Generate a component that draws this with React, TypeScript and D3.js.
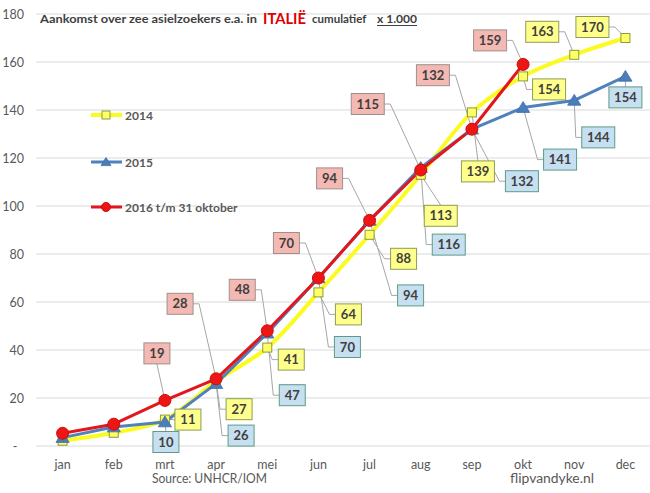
import React from 'react';
import * as d3 from 'd3';

// ---------- data ----------
const months = ['jan', 'feb', 'mrt', 'apr', 'mei', 'jun', 'jul', 'aug', 'sep', 'okt', 'nov', 'dec'];
const yTicks = [0, 20, 40, 60, 80, 100, 120, 140, 160, 180];
const values2014 = [2.2, 5.5, 11, 27, 41, 64, 88, 113, 139, 154, 163, 170];
const values2015 = [3.5, 7.9, 10, 26, 47, 70, 94, 116, 132, 141, 144, 154];
const values2016 = [5.3, 9.1, 19, 28, 48, 70, 94, 115, 132, 159];
const seriesNames = ['2014', '2015', '2016 t/m 31 oktober'];
const titleParts = ['Aankomst over zee asielzoekers e.a. in', 'ITALIË', 'cumulatief', 'x 1.000'];
const sourceText = 'Source: UNHCR/IOM';
const creditText = 'flipvandyke.nl';

// ---------- label layout (offset of box centre from its point, leader side) ----------
type Lay = [number, number, string] | null;
const layout2014: Lay[] = [null, null, [23, 0, 'l'], [23, 28, 'l'], [24, 12, 'l'], [30, 22, 'l'], [34, 24, 'l'], [20, 41, 't'], [6, 59, 't'], [26, 13, 'l'], [-32, -23, 'r'], [-33, -11, 'r']];
const layout2015: Lay[] = [null, null, [1, 20, 't'], [25, 52, 'l'], [25, 62, 'l'], [29, 69, 'l'], [41, 75, 'l'], [28, 77, 'l'], [50, 52, 'l'], [37, 52, 'l'], [24, 37, 'l'], [0, 21, 't']];
const layout2016: Lay[] = [null, null, [-8, -47, 'b'], [-36, -75, 'r'], [-25, -41, 'r'], [-32, -35, 'r'], [-40, -42, 'r'], [-53, -66, 'r'], [-39, -54, 'r'], [-33, -24, 'r']];

const W = 650;
const H = 493;
const FONT = 'Lato, "Open Sans", sans-serif';

const x = d3.scaleBand<string>().domain(months).range([37, 651]);
const y = d3.scaleLinear().domain([0, 180]).range([446, 14]);
const cx = (i: number) => (x(months[i]) as number) + x.bandwidth() / 2;

const styles = [
  { line: '#fbfb22', width: 4, box: '#ffff8c', boxStroke: '#8d9c55', marker: 'square', curve: d3.curveCatmullRom },
  { line: '#4f81bd', width: 3, box: '#c6dff1', boxStroke: '#5d9b88', marker: 'triangle', curve: d3.curveLinear },
  { line: '#e2161b', width: 3, box: '#f3b9b2', boxStroke: '#9f8f8c', marker: 'circle', curve: d3.curveLinear },
];

function Marker({ kind, px, py, legend }: { kind: string; px: number; py: number; legend?: boolean }) {
  if (kind === 'square') {
    const s = legend ? 8 : 9;
    return <rect x={px - s / 2} y={py - s / 2} width={s} height={s} fill="#ffff66" stroke="#8c9a3c" strokeWidth={1} />;
  }
  if (kind === 'triangle') {
    const s = legend ? 4.5 : 6;
    return (
      <path
        d={`M${px},${py - s}L${px + s * 1.1},${py + s * 0.8}L${px - s * 1.1},${py + s * 0.8}Z`}
        fill="#4a7ebb"
        stroke="#3e6da6"
        strokeWidth={0.8}
      />
    );
  }
  return <circle cx={px} cy={py} r={legend ? 4.5 : 6} fill="#ee1515" stroke="#c81010" strokeWidth={1} />;
}

function boxGeom(v: number, i: number, l: [number, number, string]) {
  const px = cx(i);
  const py = y(v);
  const txt = String(Math.round(v));
  const w = txt.length >= 3 ? 33 : 26;
  const h = 21;
  return { px, py, txt, w, h, bx: px + l[0], by: py + l[1], side: l[2] };
}

function Labels({ values, lay, st }: { values: number[]; lay: Lay[]; st: any }) {
  return (
    <g>
      {values.map((v, i) => {
        const l = lay[i];
        if (!l) return null;
        const g = boxGeom(v, i, l);
        return (
          <g key={i}>
            <rect x={g.bx - g.w / 2} y={g.by - g.h / 2} width={g.w} height={g.h} fill={st.box} stroke={st.boxStroke} strokeWidth={1} />
            <text x={g.bx} y={g.by + 4.5} textAnchor="middle" fontFamily={FONT} fontWeight={700} fontSize={13} fill="#404040">
              {g.txt}
            </text>
          </g>
        );
      })}
    </g>
  );
}

function Leaders({ values, lay }: { values: number[]; lay: Lay[] }) {
  return (
    <g>
      {values.map((v, i) => {
        const l = lay[i];
        if (!l) return null;
        const g = boxGeom(v, i, l);
        let d = '';
        if (g.side === 'l') {
          const ex = g.bx - g.w / 2;
          d = `M${ex},${g.by}L${ex - 6},${g.by}L${g.px},${g.py}`;
        } else if (g.side === 'r') {
          const ex = g.bx + g.w / 2;
          d = `M${ex},${g.by}L${ex + 6},${g.by}L${g.px},${g.py}`;
        } else if (g.side === 't') {
          d = `M${g.bx},${g.by - g.h / 2}L${g.px},${g.py}`;
        } else {
          d = `M${g.bx},${g.by + g.h / 2}L${g.px},${g.py}`;
        }
        return <path key={i} d={d} fill="none" stroke="#a6a6a6" strokeWidth={1} />;
      })}
    </g>
  );
}

export default function App() {
  const all = [values2014, values2015, values2016];
  const lays = [layout2014, layout2015, layout2016];
  const legendY = [115, 162, 207];

  return (
    <svg width={W} height={H} style={{ position: 'absolute', left: 0, top: 0, background: '#ffffff' }}>
      <rect x={0} y={0} width={W} height={H} fill="#ffffff" />
      {/* gridlines */}
      {yTicks.map((t) => (
        <line key={t} x1={36} x2={650} y1={y(t)} y2={y(t)} stroke="#d9d9d9" strokeWidth={1} />
      ))}
      {/* y tick labels */}
      {yTicks.map((t) => (
        <text
          key={'l' + t}
          x={t === 0 ? 15 : 24}
          y={y(t) + 4.5}
          textAnchor={t === 0 ? 'middle' : 'end'}
          fontFamily={FONT}
          fontSize={12.5}
          fill="#595959"
        >
          {t === 0 ? '-' : t}
        </text>
      ))}
      {/* x labels */}
      {months.map((m, i) => (
        <text key={m} x={cx(i)} y={469} textAnchor="middle" fontFamily={FONT} fontSize={12.5} fill="#595959">
          {m}
        </text>
      ))}
      <text x={152} y={483} fontFamily={FONT} fontSize={12.5} fill="#595959" textLength={115} lengthAdjust="spacingAndGlyphs">
        {sourceText}
      </text>
      <text x={510} y={483} fontFamily={FONT} fontSize={12.5} fill="#595959" textLength={84} lengthAdjust="spacingAndGlyphs">
        {creditText}
      </text>

      {/* title */}
      <text x={40} y={23} fontFamily={FONT} fontWeight={700} fontSize={12} fill="#404040" textLength={217} lengthAdjust="spacingAndGlyphs">
        {titleParts[0]}
      </text>
      <text x={263} y={24} fontFamily={FONT} fontWeight={700} fontSize={15.5} fill="#e00000" textLength={43} lengthAdjust="spacingAndGlyphs">
        {titleParts[1]}
      </text>
      <text x={312} y={23} fontFamily={FONT} fontWeight={700} fontSize={11.5} fill="#404040">
        {titleParts[2]}
      </text>
      <text x={377} y={23} fontFamily={FONT} fontWeight={700} fontSize={12} fill="#404040" textLength={40} lengthAdjust="spacingAndGlyphs">
        {titleParts[3]}
      </text>
      <line x1={377} x2={417} y1={25.5} y2={25.5} stroke="#404040" strokeWidth={1} />

      {/* legend */}
      {seriesNames.map((n, k) => (
        <g key={n}>
          <line x1={91} x2={122} y1={legendY[k]} y2={legendY[k]} stroke={styles[k].line} strokeWidth={styles[k].width} />
          <Marker kind={styles[k].marker} px={106} py={legendY[k]} legend />
          <text x={125} y={legendY[k] + 4.5} fontFamily={FONT} fontWeight={700} fontSize={12} fill="#595959">
            {n}
          </text>
        </g>
      ))}

      {/* leaders */}
      {all.map((vals, k) => (
        <Leaders key={'ld' + k} values={vals} lay={lays[k]} />
      ))}

      {/* lines */}
      {all.map((vals, k) => {
        const gen = d3
          .line<number>()
          .x((_, i) => cx(i))
          .y((d) => y(d))
          .curve(styles[k].curve as any);
        return <path key={'ln' + k} d={gen(vals) || ''} fill="none" stroke={styles[k].line} strokeWidth={styles[k].width} strokeLinejoin="round" />;
      })}

      {/* markers */}
      {all.map((vals, k) => (
        <g key={'mk' + k}>
          {vals.map((v, i) => (
            <Marker key={i} kind={styles[k].marker} px={cx(i)} py={y(v)} />
          ))}
        </g>
      ))}

      {/* labels */}
      {all.map((vals, k) => (
        <Labels key={'lb' + k} values={vals} lay={lays[k]} st={styles[k]} />
      ))}
    </svg>
  );
}
